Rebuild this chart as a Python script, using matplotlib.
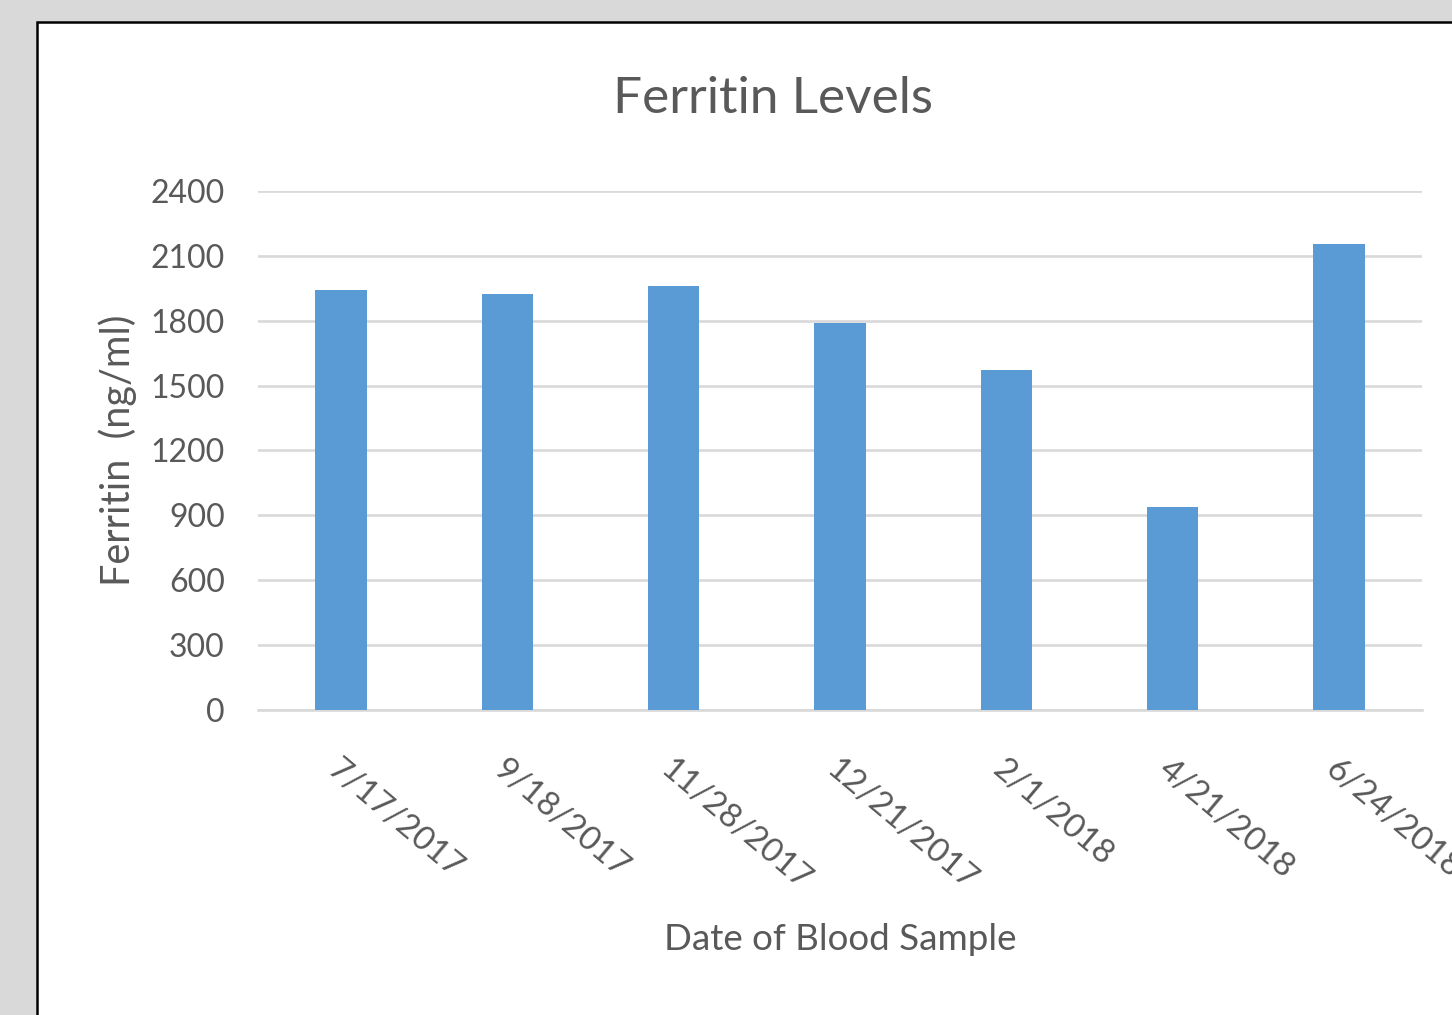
import matplotlib
matplotlib.use('Agg')
import matplotlib.pyplot as plt
from matplotlib.patches import Rectangle

# data
dates = ['7/17/2017', '9/18/2017', '11/28/2017', '12/21/2017',
         '2/1/2018', '4/21/2018', '6/24/2018']
ferritin = [1940, 1925, 1960, 1790, 1570, 940, 2155]
y_ticks = [0, 300, 600, 900, 1200, 1500, 1800, 2100, 2400]

plt.rcParams['font.family'] = ['Lato', 'DejaVu Sans']
txt_color = '#595959'
grid_color = '#d9d9d9'

W, H = 1452, 1015
fig = plt.figure(figsize=(W / 100, H / 100), dpi=100)
fig.patch.set_facecolor('#d9d9d9')

# white chart area with black border, running off the right and bottom
fig.patches.append(Rectangle((37 / W, -0.05), 1.1, 1 - 22 / H + 0.05,
                             transform=fig.transFigure, facecolor='white',
                             edgecolor='black', linewidth=1.8, zorder=-10))

ax = fig.add_axes([258 / W, 1 - 710 / H, (1422 - 258) / W, (710 - 191) / H])
ax.set_facecolor('none')

x = range(len(dates))
ax.bar(x, ferritin, width=0.31, color='#5b9bd5', zorder=3)

ax.set_xlim(-0.5, len(dates) - 0.5)
ax.set_ylim(0, 2400)
ax.set_yticks(y_ticks)
ax.set_yticklabels([str(v) for v in y_ticks])
ax.yaxis.grid(True, color=grid_color, linewidth=1.9, zorder=0)
ax.set_axisbelow(True)
for s in ['top', 'right', 'left']:
    ax.spines[s].set_visible(False)
ax.spines['bottom'].set_color(grid_color)
ax.spines['bottom'].set_linewidth(1.9)
ax.tick_params(axis='both', length=0, colors=txt_color, labelsize=23)
ax.tick_params(axis='y', pad=24)

ax.set_xticks(list(x))
ax.set_xticklabels(dates, rotation=-40, ha='left', va='top',
                   rotation_mode='anchor', fontsize=24)
ax.tick_params(axis='x', pad=32)

ax.set_ylabel('Ferritin  (ng/ml)', fontsize=28.5, color=txt_color)
ax.yaxis.set_label_coords(-0.104, 0.5)
fig.text(840 / W, 1 - 940 / H, 'Date of Blood Sample', fontsize=26.5,
         color=txt_color, ha='center', va='center')
fig.text(773 / W, 1 - 99 / H, 'Ferritin Levels', fontsize=37,
         color=txt_color, ha='center', va='center')

fig.savefig('out.png', dpi=100, facecolor=fig.get_facecolor())
